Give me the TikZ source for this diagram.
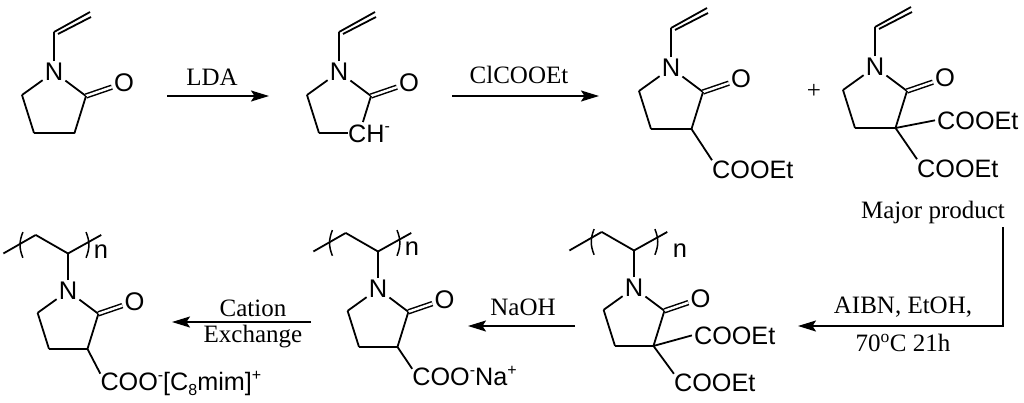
\documentclass[tikz,border=0pt]{standalone}
\usepackage{fontspec}
\setmainfont{Liberation Serif}
\newfontfamily\chemfont{Liberation Sans}
\usetikzlibrary{arrows.meta}

\newcommand{\chemup}[1]{\raisebox{10.5pt}{\fontsize{16}{16}\selectfont #1}}
\newcommand{\chemdn}[1]{\raisebox{-4.5pt}{\fontsize{16}{16}\selectfont #1}}

\tikzset{
  atom/.style={font=\chemfont\fontsize{25.5}{30}\selectfont,inner sep=2pt},
  group/.style={font=\chemfont\fontsize{25.2}{30}\selectfont,inner sep=0pt,anchor=base west},
  lab/.style={font=\fontsize{25}{28}\selectfont,inner sep=0pt},
  bond/.style={line width=1.8pt,line join=round},
  dbond/.style={line width=1.5pt,double,double distance=2.4pt},
  rxn/.style={line width=1.8pt,line join=miter,-{Stealth[length=18pt,width=11pt,inset=3.5pt]}}
}

% five-membered ring, origin on the nitrogen
\newcommand{\lactamring}{
  \node[atom] (N) at (0,0) {N};
  \node[atom] (O) at (70,11) {O};
  \coordinate (c2) at (32,24);
  \coordinate (c3) at (20.5,61);
  \coordinate (c4) at (-20,61);
  \coordinate (c5) at (-32,23);
  \foreach \from/\to in {N/c5,c5/c4,N/c2}
    \draw[bond] (\from) -- (\to);
  \draw[dbond] (c2) -- (O);
}
\newcommand{\vinylgroup}{
  \coordinate (v1) at (0,-40);
  \coordinate (v2) at (36,-60);
  \coordinate (v3) at (4,-38);
  \coordinate (v4) at (37,-55);
  \foreach \from/\to in {N/v1,v1/v2,v3/v4}
    \draw[bond] (\from) -- (\to);
}
% backbone and brackets, #1 and #2 are the x of the brackets
\newcommand{\polychain}[2]{
  \coordinate (p1) at (0,-39.5);
  \coordinate (p2) at (-68,-39.5);
  \coordinate (p3) at (-34,-59);
  \coordinate (p4) at (35,-59);
  \foreach \from/\to in {N/p1,p1/p3,p3/p2,p1/p4}
    \draw[bond] (\from) -- (\to);
  \draw[line width=1.5pt] (#1+2,-62) .. controls (#1-2,-52) and (#1-2,-45) .. (#1+2,-35);
  \draw[line width=1.5pt] (#2-2,-62) .. controls (#2+2,-52) and (#2+2,-45) .. (#2-2,-35);
}

\begin{document}
\begin{tikzpicture}[x=1pt,y=-1pt]
  \useasboundingbox (0,0) rectangle (1024,402);

  % top row
  \begin{scope}[shift={(54,72)},name prefix=a-]
    \lactamring
    \vinylgroup
    \draw[bond] (c4) -- (c3) -- (c2);
  \end{scope}

  \begin{scope}[shift={(339,72)},name prefix=b-]
    \lactamring
    \vinylgroup
    \node[group] (ch) at (9,70) {CH\chemup{-}};
    \draw[bond,shorten >=11.5pt] (c4) -- (c3);
    \draw[bond,shorten >=11.5pt] (c2) -- (c3);
  \end{scope}

  \begin{scope}[shift={(671,68)},name prefix=c-]
    \lactamring
    \vinylgroup
    \draw[bond] (c4) -- (c3) -- (c2);
    \node[group] (e1) at (41,110) {COOEt};
    \draw[bond] (c3) -- (e1.north west);
  \end{scope}

  \begin{scope}[shift={(875,67)},name prefix=d-]
    \lactamring
    \vinylgroup
    \draw[bond] (c4) -- (c3) -- (c2);
    \node[group] (e1) at (62,62) {COOEt};
    \node[group] (e2) at (42,110) {COOEt};
    \draw[bond] (c3) -- ([xshift=-2pt]e1.west);
    \draw[bond] (c3) -- (e2.north west);
  \end{scope}

  \node[lab] (plus) at (814,91) {+};

  % bottom row
  \begin{scope}[shift={(634,288)},scale=.95,name prefix=e-]
    \lactamring
    \polychain{-44}{24}
    \draw[bond] (c4) -- (c3) -- (c2);
    \node[group] (e1) at (63,59) {COOEt};
    \node[group] (e2) at (42,109) {COOEt};
    \draw[bond] (c3) -- ([xshift=-2pt]e1.west);
    \draw[bond] (c3) -- (e2.north west);
  \end{scope}
  \node[atom,inner sep=0pt] (n1) at (680,251) {n};

  \begin{scope}[shift={(378,289)},scale=.95,name prefix=f-]
    \lactamring
    \polychain{-50}{22}
    \draw[bond] (c4) -- (c3) -- (c2);
    \node[group] (e1) at (36,102) {COO\chemup{-}Na\chemup{+}};
    \draw[bond] (c3) -- ([yshift=18pt]e1.base west);
  \end{scope}
  \node[atom,inner sep=0pt] (n2) at (412,249) {n};

  \begin{scope}[shift={(68,291)},scale=.95,name prefix=g-]
    \lactamring
    \polychain{-49.5}{21}
    \draw[bond] (c4) -- (c3) -- (c2);
    \node[group] (e1) at (34,105) {COO\chemup{-}[C\chemdn{8}mim]\chemup{+}};
    \draw[bond] (c3) -- ([yshift=18pt]e1.base west);
  \end{scope}
  \node[atom,inner sep=0pt] (n3) at (101,252) {n};

  % reaction arrows
  \coordinate (s1) at (167,96);
  \coordinate (t1) at (269,96);
  \coordinate (s2) at (452,96);
  \coordinate (t2) at (599,96);
  \coordinate (s3) at (1003,227);
  \coordinate (k3) at (1003,326);
  \coordinate (t3) at (798,326);
  \coordinate (s4) at (575,326);
  \coordinate (t4) at (468,326);
  \coordinate (s5) at (311,322);
  \coordinate (t5) at (172,322);
  \foreach \from/\to in {s1/t1,s2/t2,s4/t4,s5/t5}
    \draw[rxn] (\from) -- (\to);
  \draw[rxn] (s3) -- (k3) -- (t3);

  \node[lab] (lda) at (212,77) {LDA};
  \node[lab] (cl) at (519,75) {ClCOOEt};
  \node[lab] (major) at (933,212) {Major product};
  \node[lab] (aibn) at (903,307) {AIBN, EtOH,};
  \node[lab] (temp) at (903,343) {70\textsuperscript{o}C 21h};
  \node[lab] (naoh) at (523,307) {NaOH};
  \node[lab] (cation) at (253,308) {Cation};
  \node[lab] (exch) at (253,337) {Exchange};
\end{tikzpicture}
\end{document}
